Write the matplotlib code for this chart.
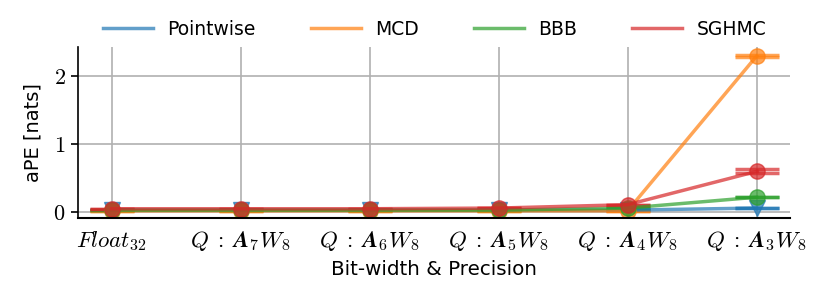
import matplotlib
matplotlib.use("Agg")
import matplotlib.pyplot as plt
import numpy as np

plt.rcParams['mathtext.fontset'] = 'cm'
plt.rcParams['font.family'] = ['DejaVu Sans']

categories = [r'$Float_{32}$', r'$Q\;:\;\mathbfit{A}_{\mathbf{7}}W_8$', r'$Q\;:\;\mathbfit{A}_{\mathbf{6}}W_8$',
              r'$Q\;:\;\mathbfit{A}_{\mathbf{5}}W_8$', r'$Q\;:\;\mathbfit{A}_{\mathbf{4}}W_8$', r'$Q\;:\;\mathbfit{A}_{\mathbf{3}}W_8$']
series_names = ['Pointwise', 'MCD', 'BBB', 'SGHMC']
pointwise = [0.03, 0.03, 0.03, 0.03, 0.03, 0.06]
mcd = [0.02, 0.02, 0.02, 0.02, 0.02, 2.30]
bbb = [0.03, 0.03, 0.03, 0.03, 0.06, 0.22]
sghmc = [0.05, 0.05, 0.05, 0.06, 0.11, 0.60]
pointwise_err = [0.0, 0.0, 0.0, 0.0, 0.0, 0.0]
mcd_err = [0.0, 0.0, 0.0, 0.0, 0.0, 0.01]
bbb_err = [0.0, 0.0, 0.0, 0.0, 0.0, 0.0]
sghmc_err = [0.0, 0.0, 0.0, 0.0, 0.0, 0.03]

colors = ['#1f77b4', '#ff7f0e', '#2ca02c', '#d62728']
markers = ['v', 'o', 'o', 'o']

fig = plt.figure(figsize=(8.3, 2.91), dpi=100)
ax = fig.add_axes([0.094, 0.25, 0.858, 0.59])
x = np.arange(len(categories))
data = [pointwise, mcd, bbb, sghmc]
errs = [pointwise_err, mcd_err, bbb_err, sghmc_err]
for name, vals, err, c, m in zip(series_names, data, errs, colors, markers):
    ax.errorbar(x, vals, yerr=err, color=c, marker=m, markersize=11, lw=2.5,
                capsize=16, capthick=2.5, elinewidth=2.5, alpha=0.7, label=name)

ax.set_xticks(x)
ax.set_xticklabels(categories, fontsize=16.5)
ax.set_yticks([0, 1, 2])
ax.set_yticklabels([r'$0$', r'$1$', r'$2$'], fontsize=16)
ax.set_xlim(-0.26, 5.26)
ax.set_ylim(-0.09, 2.44)
ax.grid(True, color='#b0b0b0', lw=1.2)
ax.set_axisbelow(True)
ax.spines['top'].set_visible(False)
ax.spines['right'].set_visible(False)
ax.spines['left'].set_linewidth(1.2)
ax.spines['bottom'].set_linewidth(1.5)
ax.tick_params(axis='x', length=0, pad=8)
ax.tick_params(axis='y', length=5, width=1.2, pad=4)
ax.set_ylabel('aPE [nats]', fontsize=14, labelpad=8)
ax.set_xlabel('Bit-width & Precision', fontsize=14.3, labelpad=5)

from matplotlib.lines import Line2D
handles = [Line2D([0], [0], color=c, lw=2.5, alpha=0.7) for c in colors]
fig.legend(handles, series_names, loc='upper center', bbox_to_anchor=(0.5235, 0.99),
           ncol=4, frameon=False, fontsize=13.5, columnspacing=2.95, handlelength=2.67,
           handletextpad=0.75)

fig.savefig('out.png', dpi=100)
